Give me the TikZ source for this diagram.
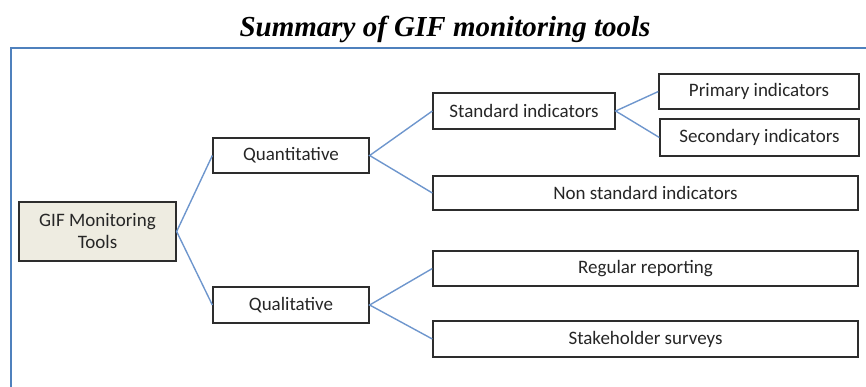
\documentclass[tikz,border=0pt]{standalone}
\usepackage{fontspec}
\setmainfont{Carlito}
\newfontfamily\titlefont{Liberation Serif}
\definecolor{frameblue}{RGB}{79,129,189}
\definecolor{linkblue}{RGB}{110,150,205}
\definecolor{boxedge}{RGB}{45,45,45}
\definecolor{beige}{RGB}{238,236,225}
\begin{document}
\begin{tikzpicture}[x=1pt,y=-1pt,
  box/.style={draw=boxedge,line width=1.3pt,fill=white,rectangle,inner sep=0pt,
    font=\fontsize{19}{22}\selectfont,text=black!85,align=center},
  link/.style={draw=linkblue,line width=1.4pt}]
\useasboundingbox (0,0) rectangle (866,386);
\node[font=\titlefont\bfseries\itshape\fontsize{29}{32}\selectfont] (title) at (445,29) {Summary of GIF monitoring tools};
\draw[frameblue,line width=2pt] (11,387) -- (11,48) -- (867,48);
\node[box,fill=beige,minimum width=157pt,minimum height=59pt] (gif) at (97.5,231.5) {GIF Monitoring\\Tools};
\node[box,minimum width=156pt,minimum height=35pt] (quant) at (291,155.5) {Quantitative};
\node[box,minimum width=156pt,minimum height=36pt] (qual) at (291,305) {Qualitative};
\node[box,minimum width=182pt,minimum height=36pt] (std) at (524,111) {Standard indicators};
\node[box,minimum width=425pt,minimum height=34pt] (nonstd) at (645.5,193) {Non standard indicators};
\node[box,minimum width=200pt,minimum height=35pt] (prim) at (759,91.5) {Primary indicators};
\node[box,minimum width=199pt,minimum height=37pt] (sec) at (759.5,137.5) {Secondary indicators};
\node[box,minimum width=425pt,minimum height=35pt] (reg) at (645.5,268.5) {Regular reporting};
\node[box,minimum width=425pt,minimum height=36pt] (stake) at (645.5,339) {Stakeholder surveys};
\draw[link] (quant.west) -- (gif.east) -- (qual.west);
\draw[link] (std.west) -- (quant.east) -- (nonstd.west);
\draw[link] (prim.west) -- (std.east) -- (sec.west);
\draw[link] (reg.west) -- (qual.east) -- (stake.west);
\end{tikzpicture}
\end{document}
